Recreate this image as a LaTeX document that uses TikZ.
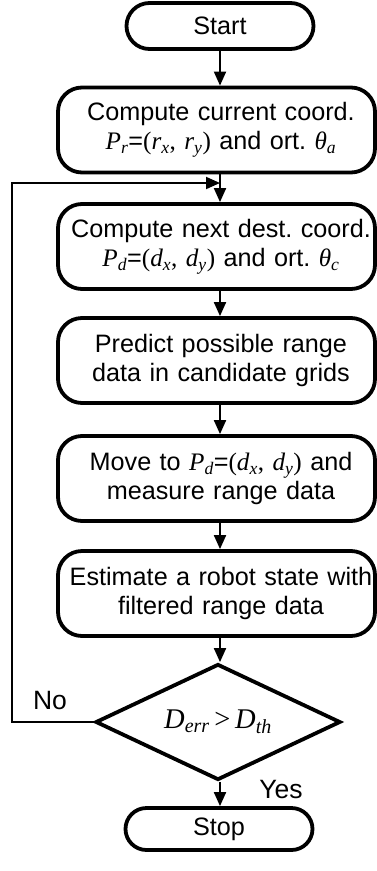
\documentclass[tikz,border=0pt]{standalone}
\usepackage{fontspec}
\setmainfont{Liberation Sans}
\newfontfamily\tms{Liberation Serif}
\usetikzlibrary{shapes.geometric,shapes.misc,arrows.meta}
\frenchspacing
\newcommand{\mup}[1]{{\tms #1}}
\newcommand{\msb}[2]{{\tms\itshape #1\textsubscript{#2}}}
\newcommand{\cl}[1]{\makebox[\linewidth][c]{\kern9pt #1}}
\tikzset{
  procbox/.style={draw, line width=3.8pt, rounded corners=24pt, minimum width=317pt, minimum height=85pt, text width=317pt, align=center, inner sep=0pt, font=\fontsize{25.2}{29}\selectfont\frenchspacing},
  termbox/.style={draw, line width=3.8pt, rounded rectangle, minimum width=187pt, minimum height=46pt, inner sep=0pt},
  decbox/.style={draw, line width=3.8pt, diamond, aspect=2.11, minimum width=245pt, minimum height=116pt, inner sep=0pt, font=\fontsize{28.5}{30}\selectfont},
  arr/.style={line width=1.9pt, -{Triangle[length=14pt,width=12pt]}},
  lbl/.style={inner sep=0pt, font=\fontsize{26.5}{30}\selectfont}
}
\begin{document}
\begin{tikzpicture}[x=1pt,y=1pt,font=\fontsize{25.2}{29}\selectfont]
\useasboundingbox (0,0) rectangle (377,-871);
\coordinate (ax) at (220,0);
\coordinate (lx) at (12,0);
\coordinate (join) at (220,-183);
\node[termbox] (start) at (220,-26) {Start};
\node[procbox] (b1) at (216.5,-130) {\cl{Compute current coord.}\\\cl{\msb{P}{r}=\mup{(}\msb{r}{x}\mup{,} \msb{r}{y}\mup{)} and ort. \msb{θ}{a}}};
\node[procbox] (b2) at (216.5,-246.5) {\cl{Compute next dest. coord.}\\\cl{\msb{P}{d}=\mup{(}\msb{d}{x}\mup{,} \msb{d}{y}\mup{)} and ort. \msb{θ}{c}}};
\node[procbox] (b3) at (216.5,-360.5) {\cl{Predict possible range}\\\cl{data in candidate grids}};
\node[procbox] (b4) at (216.5,-478.5) {\cl{Move to \msb{P}{d}=\mup{(}\msb{d}{x}\mup{,} \msb{d}{y}\mup{)} and}\\\cl{measure range data}};
\node[procbox] (b5) at (216.5,-593.5) {\cl{Estimate a robot state with}\\\cl{filtered range data}};
\node[decbox] (dia) at (218,-722) {\msb{D}{err}\,\mup{>}\,\msb{D}{th}};
\node[termbox, minimum height=42pt] (stop) at (219,-829) {Stop};
\draw[arr] (start.south -| ax) -- (b1.north -| ax);
\draw[line width=1.9pt] (b1.south -| ax) -- (join);
\draw[arr] (join) -- (b2.north -| ax);
\draw[arr] (b2.south -| ax) -- (b3.north -| ax);
\draw[arr] (b3.south -| ax) -- (b4.north -| ax);
\draw[arr] (b4.south -| ax) -- (b5.north -| ax);
\draw[arr] (b5.south -| ax) -- (dia.north -| ax);
\draw[arr] (dia.south -| ax) -- (stop.north -| ax);
\draw[arr] (dia.west) -- (dia.west -| lx) |- (join);
\node[lbl] (no) at (50,-701) {No};
\node[lbl] (yes) at (281,-790) {Yes};
\end{tikzpicture}
\end{document}
